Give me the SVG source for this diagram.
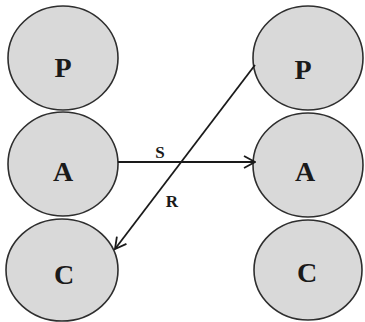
<svg xmlns="http://www.w3.org/2000/svg" width="365" height="322" viewBox="0 0 365 322">
<style>
.n{fill:#d9d9d9;stroke:#2e2e2e;stroke-width:1.6}
.t{font-family:"Liberation Serif",serif;font-weight:bold;font-size:28px;fill:#1a1a1a;text-anchor:middle}
.l{font-family:"Liberation Serif",serif;font-weight:bold;font-size:17px;fill:#1a1a1a;text-anchor:middle}
.c{fill:none;stroke:#1a1a1a;stroke-width:1.8}
</style>
<defs>
<marker id="ah" viewBox="0 0 14 14" refX="13" refY="7" markerWidth="14" markerHeight="14" markerUnits="userSpaceOnUse" orient="auto">
<path d="M2,1 L13,7 L2,13" fill="none" stroke="#1a1a1a" stroke-width="1.8"/>
</marker>
</defs>
<rect width="365" height="322" fill="#fff"/>
<g id="left-P"><ellipse class="n" cx="63" cy="58" rx="55" ry="52"/><text class="t" x="63" y="77">P</text></g>
<g id="left-A"><ellipse class="n" cx="63" cy="164" rx="55" ry="52"/><text class="t" x="63" y="181">A</text></g>
<g id="left-C"><ellipse class="n" cx="62" cy="270" rx="56" ry="51"/><text class="t" x="64" y="284">C</text></g>
<g id="right-P"><ellipse class="n" cx="308" cy="58" rx="55" ry="52"/><text class="t" x="303" y="79">P</text></g>
<g id="right-A"><ellipse class="n" cx="308" cy="165" rx="55" ry="52"/><text class="t" x="305" y="181">A</text></g>
<g id="right-C"><ellipse class="n" cx="308" cy="270" rx="54" ry="50"/><text class="t" x="307" y="282">C</text></g>
<g id="connectors">
<line class="c" x1="118" y1="162" x2="255" y2="162" marker-end="url(#ah)"/>
<line class="c" x1="255" y1="65" x2="115" y2="249" marker-end="url(#ah)"/>
<text class="l" x="160" y="158">S</text>
<text class="l" x="172" y="207">R</text>
</g>
</svg>
